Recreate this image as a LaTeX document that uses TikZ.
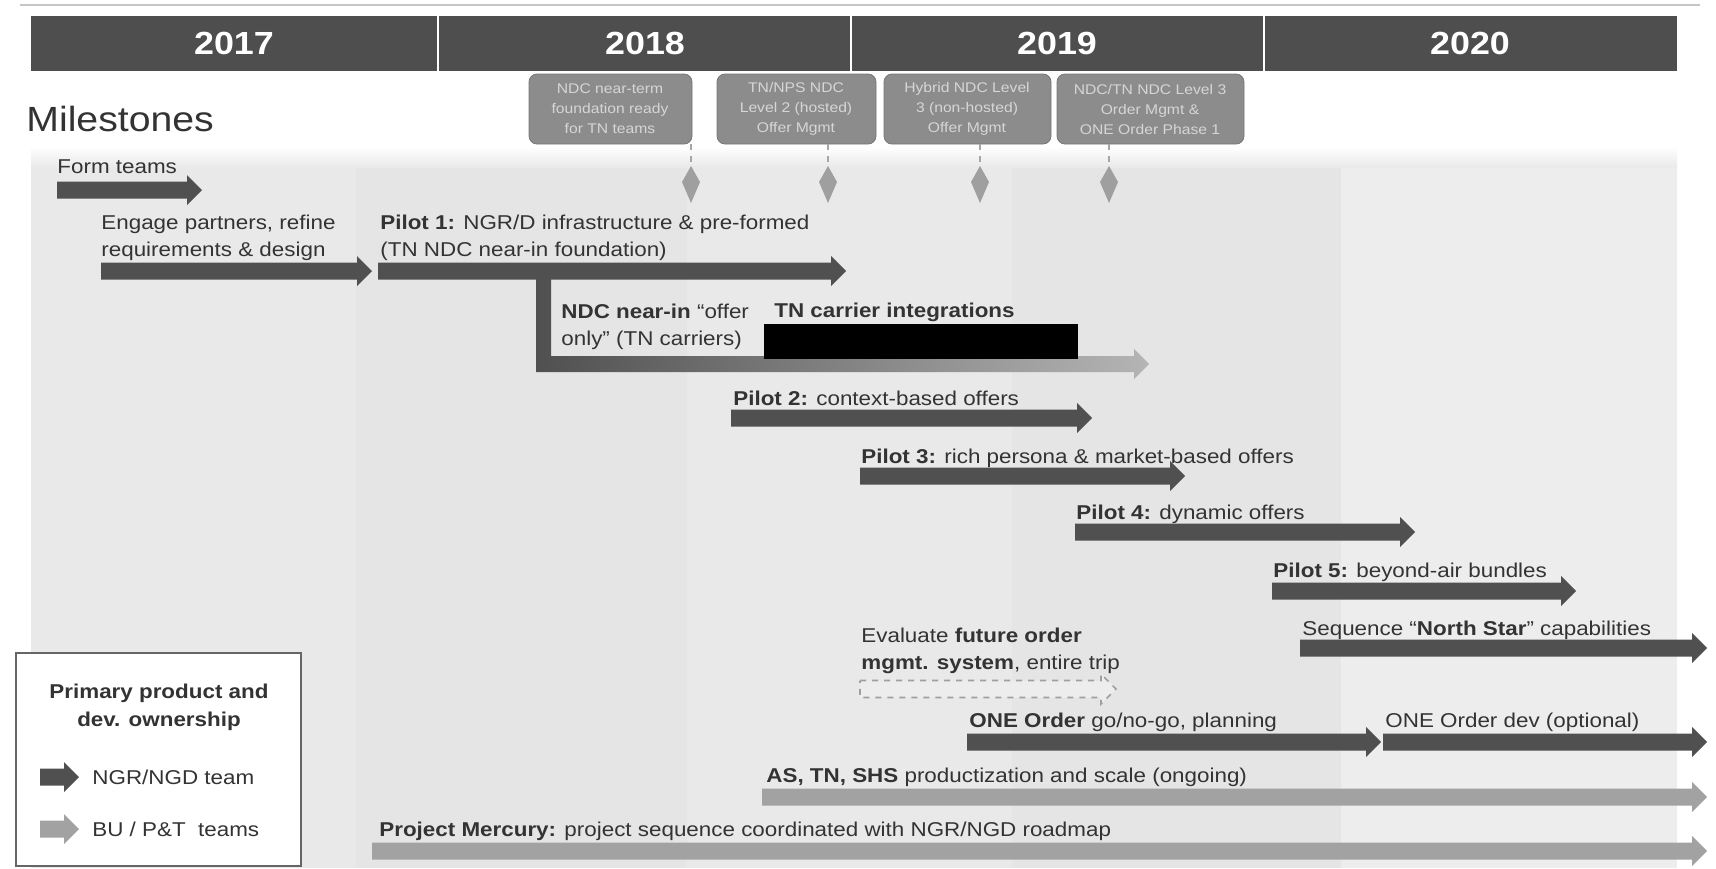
\documentclass[tikz,border=0pt]{standalone}
\usepackage{fontspec}
\setmainfont{Liberation Sans}[FakeStretch=1.12]
\definecolor{hdr}{HTML}{4E4E4E}
\definecolor{darkbar}{HTML}{505050}
\definecolor{lightbar}{HTML}{A2A2A2}
\definecolor{bgA}{HTML}{E9E9E9}
\definecolor{bgB}{HTML}{E5E5E5}
\definecolor{bgC}{HTML}{EDEDED}
\definecolor{mfill}{HTML}{8C8C8C}
\definecolor{mtxt}{HTML}{D6D6D6}
\definecolor{txt}{HTML}{333333}

% block arrow: #1 start x, #2 tip x, #3 centre y, #4 style
\newcommand{\barar}[4]{%
  \path[#4] (#1,#3-8.5) -- (#2-15,#3-8.5) -- (#2-15,#3-15) -- (#2,#3)
    -- (#2-15,#3+15) -- (#2-15,#3+8.5) -- (#1,#3+8.5) -- cycle;}
% milestone pointer: dashed stem and kite-shaped head at x = #1
\newcommand{\mpointer}[1]{%
  \draw[ptrstem] (#1,144) -- (#1,170);
  \fill[ptrhead] (#1,166) -- (#1+9,182) -- (#1,203) -- (#1-9,182) -- cycle;}

\begin{document}
\begin{tikzpicture}[x=0.5pt,y=-0.5pt,
  darkfill/.style={fill=darkbar},
  lightfill/.style={fill=lightbar},
  lbl/.style={anchor=base west, inner sep=0pt, text=txt, align=left,
    font=\fontsize{10}{13.5}\selectfont},
  year/.style={text=white, font=\fontsize{16}{18}\selectfont\bfseries, inner sep=0pt},
  mbox/.style={fill=mfill, draw=mfill!85!black, line width=0.4pt, rounded corners=4pt},
  mtext/.style={text=mtxt, align=center, inner sep=0pt,
    font=\fontsize{7}{10}\selectfont},
  ptrstem/.style={draw=gray!70, dashed, line width=1.2pt},
  ptrhead/.style={fill=gray!75},
]
\useasboundingbox (0,0) rectangle (1716,868);
\fill[white] (0,0) rectangle (1716,868);

% thin rule along the top edge
\draw[gray!45, line width=0.8pt] (20,5) -- (1700,5);

% shaded timeline area with faint year columns
\shade[top color=white, bottom color=bgA] (31,146) rectangle (1677,168);
\fill[bgA] (31,168) rectangle (356,868);
\fill[bgB] (356,168) rectangle (687,868);
\fill[bgA] (687,168) rectangle (1012,868);
\fill[bgB] (1012,168) rectangle (1341,868);
\fill[bgC] (1341,168) rectangle (1677,868);

% year header
\fill[hdr] (31,16) rectangle (1677,71);
\foreach \xd in {438,851,1264} \draw[white, line width=1.2pt] (\xd,16) -- (\xd,71);
\node[year] (y2017) at (234,43) {2017};
\node[year] (y2018) at (645,43) {2018};
\node[year] (y2019) at (1057,43) {2019};
\node[year] (y2020) at (1470,43) {2020};

\node[anchor=west, inner sep=0pt, text=txt, font=\fontsize{17.5}{20}\selectfont] (ms) at (26,119) {Milestones};

% milestone boxes
\path[mbox] (529,74) rectangle (692,144);
\path[mbox] (717,74) rectangle (876,144);
\path[mbox] (884,74) rectangle (1051,144);
\path[mbox] (1057,74) rectangle (1244,144);
\node[mtext] (m1) at (610,109) {NDC near-term\\foundation ready\\for TN teams};
\node[mtext] (m2) at (796,109) {TN/NPS NDC\\Level 2 (hosted)\\Offer Mgmt};
\node[mtext] (m3) at (967,109) {Hybrid NDC Level\\3 (non-hosted)\\Offer Mgmt};
\node[mtext] (m4) at (1150,109) {NDC/TN NDC Level 3\\Order Mgmt \&\\ONE Order Phase 1};
\mpointer{691}
\mpointer{828}
\mpointer{980}
\mpointer{1109}

% work streams (two-line labels are placed by their last baseline)
\node[lbl] (ft) at (57,173) {Form teams};
\barar{57}{202}{190}{darkfill}

\node[lbl] (eng) at (101,256) {Engage partners, refine\\requirements \& design};
\barar{101}{372}{271}{darkfill}

% branch from pilot 1 towards TN carrier integrations
\shade[left color=darkbar, middle color=gray!70, right color=lightbar!80!white]
  (536,272) -- (551,272) -- (551,356) -- (1134,356) -- (1134,349) -- (1149,364)
  -- (1134,379) -- (1134,372) -- (536,372) -- cycle;
\node[lbl] (p1) at (380,256) {\textbf{Pilot 1:} NGR/D infrastructure \& pre-formed\\(TN NDC near-in foundation)};
\barar{378}{846}{271}{darkfill}
\node[lbl] (ndc) at (561,345) {\textbf{NDC near-in} ``offer\\only'' (TN carriers)};
\node[lbl] (tnc) at (774,317) {\textbf{TN carrier integrations}};
\fill[black] (764,324) rectangle (1078,359);

\node[lbl] (p2) at (733,405) {\textbf{Pilot 2:} context-based offers};
\barar{731}{1092}{418}{darkfill}
\node[lbl] (p3) at (861,463) {\textbf{Pilot 3:} rich persona \& market-based offers};
\barar{860}{1185}{476}{darkfill}
\node[lbl] (p4) at (1076,519) {\textbf{Pilot 4:} dynamic offers};
\barar{1075}{1415}{532}{darkfill}
\node[lbl] (p5) at (1273,577) {\textbf{Pilot 5:} beyond-air bundles};
\barar{1272}{1576}{591}{darkfill}
\node[lbl] (ns) at (1302,635) {Sequence ``\textbf{North Star}'' capabilities};
\barar{1300}{1707}{648}{darkfill}

\node[lbl] (ev) at (861,669) {Evaluate \textbf{future order}\\\textbf{mgmt. system}, entire trip};
\barar{860}{1116}{689}{draw=gray!75, fill=bgC, dashed, line width=0.8pt}

\node[lbl] (oo) at (969,727) {\textbf{ONE Order} go/no-go, planning};
\barar{967}{1381}{742}{darkfill}
\node[lbl] (od) at (1385,727) {ONE Order dev (optional)};
\barar{1383}{1707}{742}{darkfill}

\node[lbl] (as) at (766,782) {\textbf{AS, TN, SHS} productization and scale (ongoing)};
\barar{762}{1707}{797}{lightfill}
\node[lbl] (pm) at (379,836) {\textbf{Project Mercury:} project sequence coordinated with NGR/NGD roadmap};
\barar{372}{1707}{851}{lightfill}

% legend
\draw[draw=gray!80!black, fill=white, line width=0.8pt] (16,653) rectangle (301,866);
\node[text=txt, align=center, inner sep=0pt, font=\fontsize{10}{14}\selectfont\bfseries]
  (lt) at (159,707) {Primary product and\\dev. ownership};
\barar{40}{79}{777}{darkfill}
\node[lbl] (l1) at (92,784) {NGR/NGD team};
\barar{40}{79}{829}{lightfill}
\node[lbl] (l2) at (92,836) {BU / P\&T\ \ teams};
\end{tikzpicture}
\end{document}
